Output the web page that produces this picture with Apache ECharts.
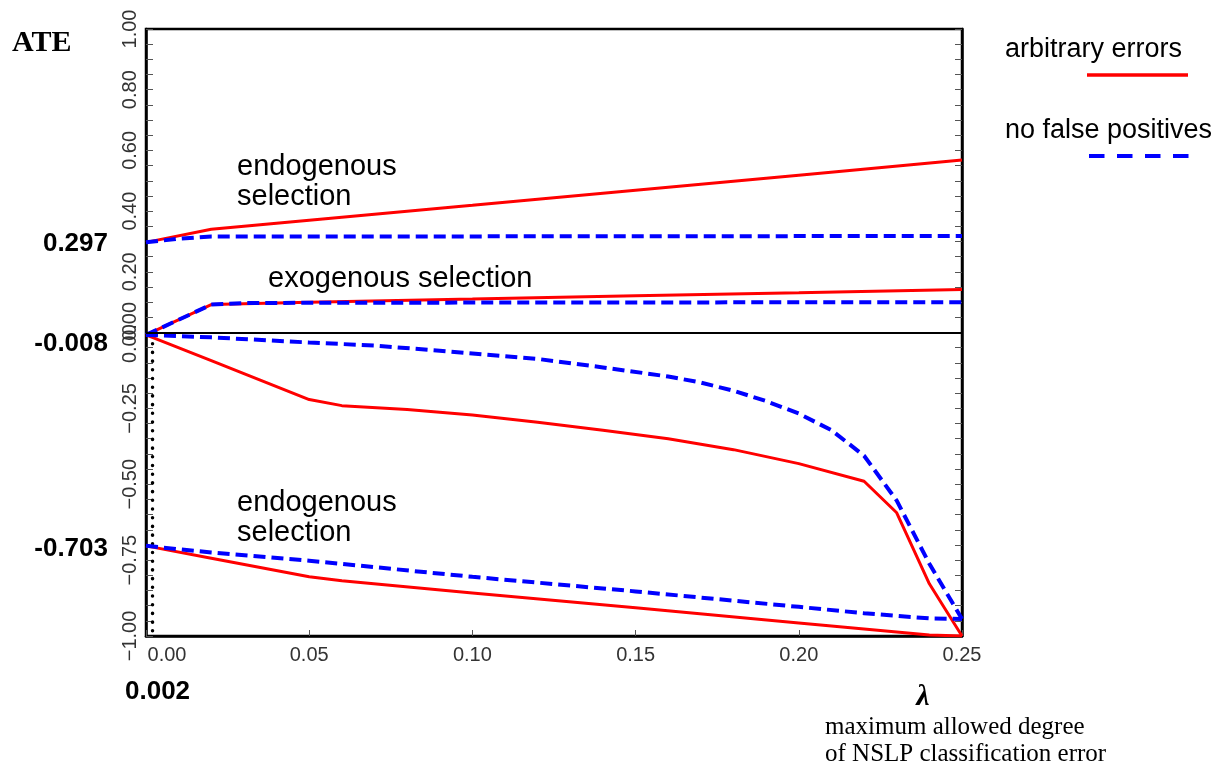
<!DOCTYPE html>
<html><head><meta charset="utf-8">
<script src="https://cdn.jsdelivr.net/npm/echarts@6/dist/echarts.min.js"></script>
<style>html,body{margin:0;padding:0;background:#fff}#c{width:1220px;height:773px}</style>
</head><body><div id="c"></div>
<script>
// ---- data (lambda = maximum allowed degree of NSLP classification error) ----
const endoUpperRedX  = [0, 0.02, 0.05, 0.10, 0.15, 0.20, 0.25];
const endoUpperRedY  = [0.297, 0.340, 0.370, 0.419, 0.469, 0.518, 0.568];
const endoUpperBlueX = [0, 0.01, 0.02, 0.25];
const endoUpperBlueY = [0.297, 0.309, 0.316, 0.318];

const exoUpperRedX  = [0, 0.02, 0.05, 0.10, 0.15, 0.20, 0.25];
const exoUpperRedY  = [-0.008, 0.092, 0.100, 0.110, 0.121, 0.131, 0.142];
const exoUpperBlueX = [0, 0.02, 0.03, 0.05, 0.25];
const exoUpperBlueY = [-0.008, 0.092, 0.097, 0.098, 0.100];

const exoLowerRedX  = [0, 0.02, 0.05, 0.06, 0.08, 0.10, 0.12, 0.14, 0.16, 0.18, 0.20, 0.22, 0.23, 0.24, 0.25];
const exoLowerRedY  = [-0.008, -0.093, -0.221, -0.241, -0.254, -0.272, -0.296, -0.322, -0.350, -0.386, -0.432, -0.490, -0.594, -0.828, -1.000];
const exoLowerBlueX = [0, 0.02, 0.05, 0.07, 0.09, 0.12, 0.14, 0.16, 0.17, 0.18, 0.19, 0.20, 0.21, 0.22, 0.23, 0.24, 0.25];
const exoLowerBlueY = [-0.008, -0.016, -0.033, -0.043, -0.060, -0.087, -0.115, -0.145, -0.165, -0.192, -0.226, -0.267, -0.322, -0.406, -0.554, -0.762, -0.944];

const endoLowerRedX  = [0, 0.02, 0.05, 0.06, 0.10, 0.15, 0.20, 0.24, 0.25];
const endoLowerRedY  = [-0.703, -0.744, -0.805, -0.818, -0.858, -0.907, -0.957, -0.997, -1.000];
const endoLowerBlueX = [0, 0.02, 0.05, 0.10, 0.15, 0.20, 0.22, 0.24, 0.25];
const endoLowerBlueY = [-0.703, -0.725, -0.752, -0.805, -0.853, -0.904, -0.925, -0.942, -0.944];

const lambdaMin = 0.002;          // vertical dotted marker
const keyValues = [0.297, -0.008, -0.703];
const xTickStep = 0.05;
const yTickStep = 0.05;
const legendNames = ['arbitrary errors', 'no false positives'];

const RED = '#ff0000', BLUE = '#0000ff';
const pair = (xs, ys) => xs.map((x, i) => [x, ys[i]]);
const MINUS = '\u2212';
const FIG = '\u2007\u2007';

function fmt2(v){ const s = Math.abs(v).toFixed(2); return (v < 0 ? MINUS : '') + s; }

const labelBase = {fontSize: 20, color: '#333', fontFamily: 'Liberation Sans'};

const chart = echarts.init(document.getElementById('c'), null, {renderer: 'canvas'});

function redLine(name, data){ return {name, type:'line', data, symbol:'none', z:3, lineStyle:{color:RED, width:3}, itemStyle:{color:RED}, animation:false}; }
function blueLine(name, data){ return {name, type:'line', data, symbol:'none', z:4, lineStyle:{color:BLUE, width:4, type:[12,6]}, itemStyle:{color:BLUE}, animation:false}; }

chart.setOption({
  animation: false,
  grid: {left:146, right:258, top:29, bottom:137, show:true, borderColor:'#000', borderWidth:2.5, backgroundColor:'transparent'},
  xAxis: {
    type:'value', min:0, max:0.25, interval:xTickStep,
    axisLine:{show:true, onZero:false, lineStyle:{color:'#000', width:2.5}},
    axisTick:{show:true, inside:true, length:6, lineStyle:{color:'#555', width:1}},
    splitLine:{show:false},
    axisLabel:Object.assign({}, labelBase, {margin:9,
      formatter: v => Math.round(v*100) === 0 ? '{z|0.00}' : v.toFixed(2),
      rich:{z:Object.assign({}, labelBase, {padding:[0,0,0,42]})}})
  },
  yAxis: [
    {type:'value', min:-1, max:1, interval:yTickStep, position:'left',
     axisLine:{show:true, onZero:false, lineStyle:{color:'#000', width:2.5}},
     axisTick:{show:true, inside:true, length:7, lineStyle:{color:'#555', width:1}},
     splitLine:{show:false},
     axisLabel:Object.assign({}, labelBase, {rotate:90, margin:6, showMinLabel:true, showMaxLabel:true,
       formatter: v => { const r = Math.round(v*100); if (r < 0 || r % 20 !== 0) return ''; return r === 0 ? FIG + '0.00' : fmt2(v); }})},
    {type:'value', min:-1, max:1, interval:yTickStep, position:'left',
     axisLine:{show:false, onZero:false}, axisTick:{show:false}, splitLine:{show:false},
     axisLabel:Object.assign({}, labelBase, {rotate:90, margin:6, showMinLabel:true, showMaxLabel:true,
       formatter: v => { const r = Math.round(v*100); if (r > 0 || r % 25 !== 0) return ''; return r === 0 ? '0.00' + FIG : fmt2(v); }})},
    {type:'value', min:-1, max:1, interval:yTickStep, position:'right',
     axisLine:{show:true, onZero:false, lineStyle:{color:'#000', width:2.5}},
     axisTick:{show:true, inside:true, length:7, lineStyle:{color:'#555', width:1}},
     splitLine:{show:false}, axisLabel:{show:false}}
  ],
  series: [
    {type:'line', data:[[lambdaMin, keyValues[1]], [lambdaMin, -1]], symbol:'none', z:2,
     lineStyle:{color:'#000', width:3.5, type:[0.1,8.6], cap:'round'},
     markLine:{silent:true, symbol:'none', label:{show:false}, lineStyle:{color:'#000', width:2, type:'solid'}, data:[{yAxis:0}]}},
    redLine('endoUpperRed', pair(endoUpperRedX, endoUpperRedY)),
    redLine('exoUpperRed', pair(exoUpperRedX, exoUpperRedY)),
    redLine('exoLowerRed', pair(exoLowerRedX, exoLowerRedY)),
    redLine('endoLowerRed', pair(endoLowerRedX, endoLowerRedY)),
    blueLine('endoUpperBlue', pair(endoUpperBlueX, endoUpperBlueY)),
    blueLine('exoUpperBlue', pair(exoUpperBlueX, exoUpperBlueY)),
    blueLine('exoLowerBlue', pair(exoLowerBlueX, exoLowerBlueY)),
    blueLine('endoLowerBlue', pair(endoLowerBlueX, endoLowerBlueY))
  ]
});

// annotations anchored via the library's scales
const py = v => chart.convertToPixel({xAxisIndex:0, yAxisIndex:0}, [0, v])[1];
const px = v => chart.convertToPixel({xAxisIndex:0, yAxisIndex:0}, [v, 0])[0];
const keyOffsets = [1, 9, 3];
const boldSans = 'bold 26px "Liberation Sans"';
const g = [];
g.push({type:'text', style:{text:'ATE', x:12, y:43, textVerticalAlign:'middle', font:'bold 30px "Liberation Serif"', fill:'#000'}});
keyValues.forEach((v, i) => {
  g.push({type:'text', style:{text:(v < 0 ? '-' : '') + Math.abs(v).toFixed(3), x:108, y:py(v) + keyOffsets[i], textAlign:'right', textVerticalAlign:'middle', font:boldSans, fill:'#000'}});
});
g.push({type:'text', style:{text:lambdaMin.toFixed(3), x:px(lambdaMin) + 5, y:692, textAlign:'center', textVerticalAlign:'middle', font:boldSans, fill:'#000'}});
g.push({type:'text', style:{text:'\u03bb', x:923, y:697, textAlign:'center', textVerticalAlign:'middle', font:'bold italic 30px "Liberation Serif"', fill:'#000'}});
g.push({type:'text', style:{text:'maximum allowed degree\nof NSLP classification error', x:825, y:714, textVerticalAlign:'top', lineHeight:27, font:'25px "Liberation Serif"', fill:'#000'}});
const annFont = '29px "Liberation Sans"';
g.push({type:'text', style:{text:'endogenous\nselection', x:237, y:152, textVerticalAlign:'top', lineHeight:30, font:annFont, fill:'#000'}});
g.push({type:'text', style:{text:'exogenous selection', x:268, y:264, textVerticalAlign:'top', lineHeight:30, font:annFont, fill:'#000'}});
g.push({type:'text', style:{text:'endogenous\nselection', x:237, y:488, textVerticalAlign:'top', lineHeight:30, font:annFont, fill:'#000'}});
// legend
const legFont = '27px "Liberation Sans"';
g.push({type:'text', style:{text:legendNames[0], x:1005, y:50, textVerticalAlign:'middle', font:legFont, fill:'#000'}});
g.push({type:'line', shape:{x1:1087, y1:75, x2:1188, y2:75}, style:{stroke:RED, lineWidth:3.5}});
g.push({type:'text', style:{text:legendNames[1], x:1005, y:131, textVerticalAlign:'middle', font:legFont, fill:'#000'}});
g.push({type:'line', shape:{x1:1089, y1:156, x2:1189, y2:156}, style:{stroke:BLUE, lineWidth:4, lineDash:[15.5,12.5]}});
chart.setOption({graphic: g});
</script></body></html>
